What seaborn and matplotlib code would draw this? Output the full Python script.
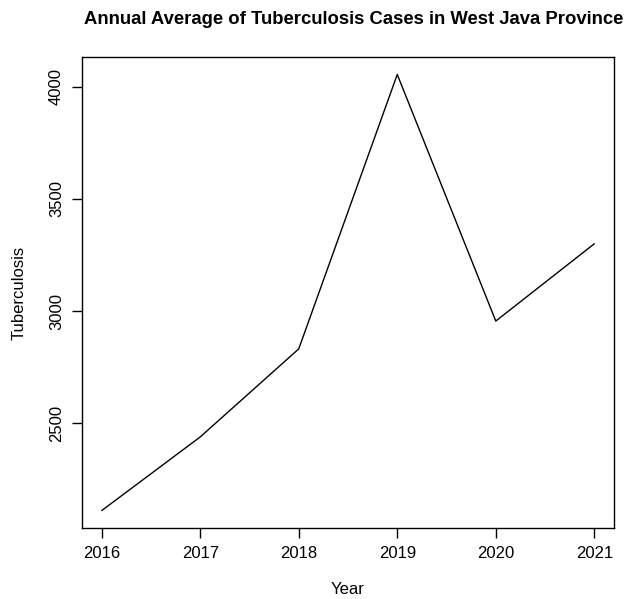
import matplotlib
matplotlib.use("Agg")
import matplotlib.pyplot as plt
import seaborn as sns
import pandas as pd

years = [2016, 2017, 2018, 2019, 2020, 2021]
cases = [2112, 2440, 2832, 4054, 2956, 3300]
y_ticks = [2500, 3000, 3500, 4000]

sns.set_theme(style="white")
plt.rcParams["font.family"] = ["Liberation Sans", "DejaVu Sans"]
plt.rcParams["text.color"] = "black"
plt.rcParams["axes.labelcolor"] = "black"
plt.rcParams["xtick.color"] = "black"
plt.rcParams["ytick.color"] = "black"

df = pd.DataFrame({"Year": years, "Tuberculosis": cases})

fig = plt.figure(figsize=(6.28, 5.99), dpi=100)
ax = fig.add_axes([0.1306, 0.1185, 0.8471, 0.7863])
sns.lineplot(data=df, x="Year", y="Tuberculosis", color="black", linewidth=1.0, ax=ax)

span = max(cases) - min(cases)
ax.set_ylim(min(cases) - 0.04 * span, max(cases) + 0.04 * span)
ax.set_xlim(years[0] - 0.2, years[-1] + 0.2)
ax.set_xticks(years)
ax.set_xticklabels([str(y) for y in years], fontsize=12)
ax.set_yticks(y_ticks)
ax.set_yticklabels([str(t) for t in y_ticks], fontsize=12, rotation=90, va="center")
ax.tick_params(axis="both", which="major", length=7, width=1, color="black",
               direction="out", bottom=True, left=True, pad=6)

for s in ax.spines.values():
    s.set_visible(True)
    s.set_color("black")
    s.set_linewidth(1.0)

ax.set_xlabel("Year", fontsize=12, labelpad=15)
ax.set_ylabel("Tuberculosis", fontsize=12, labelpad=16)
fig.suptitle("Annual Average of Tuberculosis Cases in West Java Province",
             fontsize=13.3, fontweight="bold", x=0.563, y=0.982)

fig.savefig("out.png", dpi=100, facecolor="white")
